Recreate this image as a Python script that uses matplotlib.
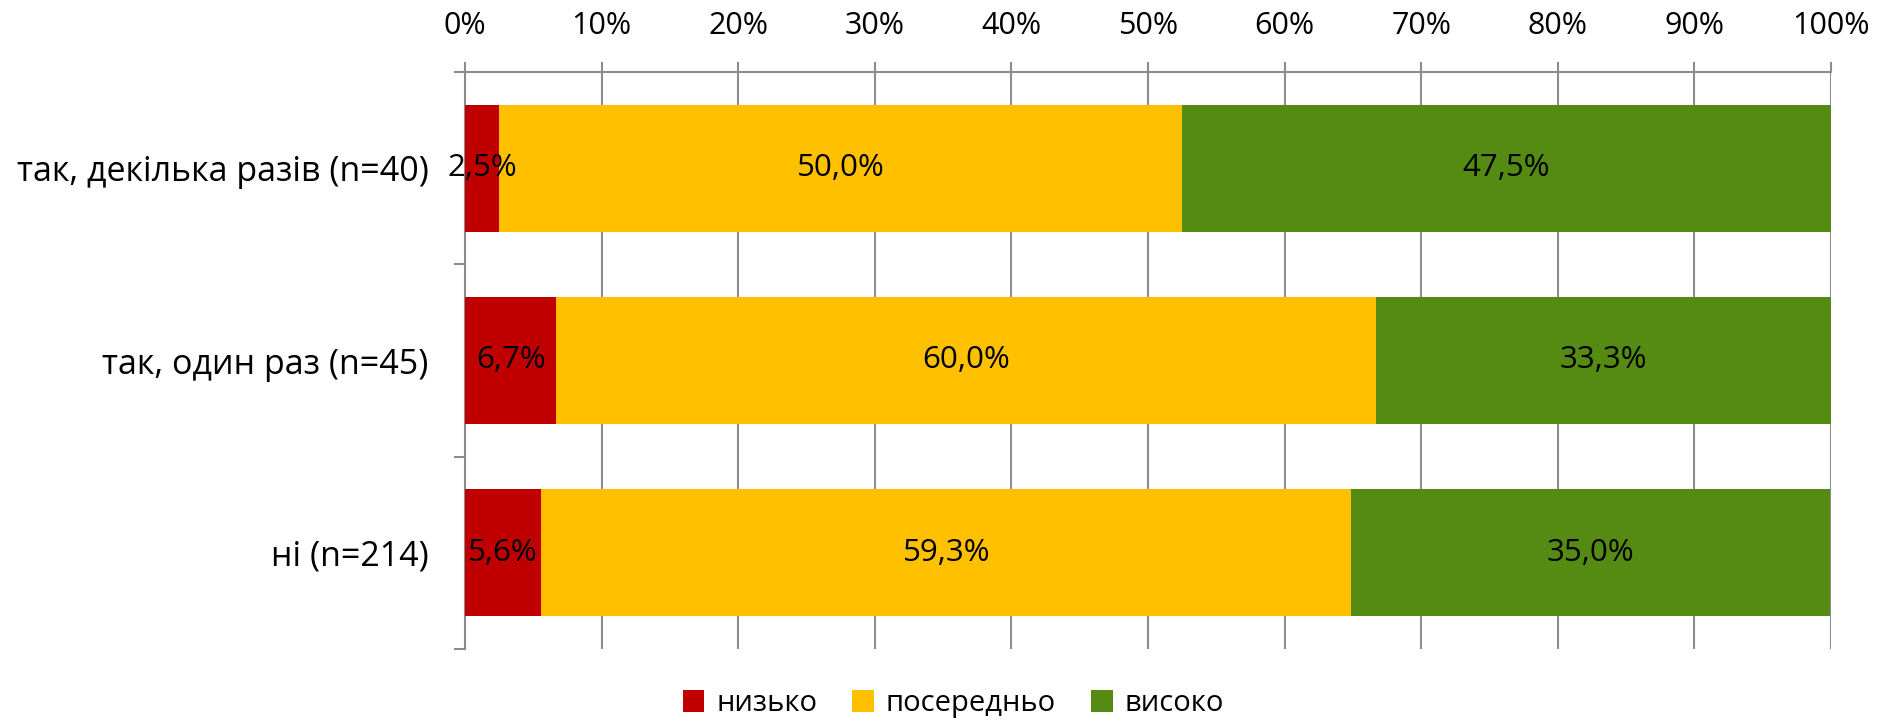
import matplotlib.pyplot as plt
import numpy as np

plt.rcParams['font.family'] = ['Open Sans', 'DejaVu Sans']

categories = ['так, декілька разів (n=40)', 'так, один раз (n=45)', 'ні (n=214)']
series_names = ['низько', 'посередньо', 'високо']
low = [2.5, 6.7, 5.6]
mid = [50.0, 60.0, 59.3]
high = [47.5, 33.3, 35.0]
colors = ['#C00000', '#FFC000', '#558B13']
xticks = np.arange(0, 101, 10)

fig = plt.figure(figsize=(18.8, 7.21), dpi=100)
ax = fig.add_axes([0.2473, 0.0999, 0.9739 - 0.2473, 0.9001 - 0.0999])

y = np.arange(len(categories))
left = np.zeros(len(categories))
for name, vals, col in zip(series_names, [low, mid, high], colors):
    vals = np.array(vals)
    ax.barh(y, vals, left=left, height=0.66, color=col, label=name, zorder=3)
    for yi, l, v in zip(y, left, vals):
        ax.text(l + v / 2, yi, f"{v:.1f}%".replace('.', ','), ha='center', va='center',
                fontsize=22.5, color='black', zorder=4)
    left = left + vals

ax.set_xlim(0, 100)
ax.set_ylim(2.5, -0.5)
ax.xaxis.tick_top()
ax.set_xticks(xticks)
ax.set_xticklabels([f"{t}%" for t in xticks], fontsize=22)
ax.tick_params(axis='x', length=7, width=1.5, color='#8C8C8C', pad=15)
ax.grid(axis='x', color='#8C8C8C', linewidth=1.5, zorder=0)

# category labels at centres, tick marks at boundaries
ax.set_yticks(y)
ax.set_yticklabels(categories, fontsize=24.5)
ax.tick_params(axis='y', which='major', length=0, pad=26)
ax.set_yticks([-0.5, 0.5, 1.5, 2.5], minor=True)
ax.tick_params(axis='y', which='minor', length=8, width=1.5, color='#8C8C8C')

for s in ['right', 'bottom']:
    ax.spines[s].set_visible(False)
for s in ['top', 'left']:
    ax.spines[s].set_color('#8C8C8C')
    ax.spines[s].set_linewidth(1.5)

fig.legend(loc='center', bbox_to_anchor=(0.507, 0.024), ncol=3, frameon=False,
           fontsize=21, handlelength=0.75, handleheight=0.75, columnspacing=1.2,
           handletextpad=0.4)

fig.savefig('out.png', dpi=100)
